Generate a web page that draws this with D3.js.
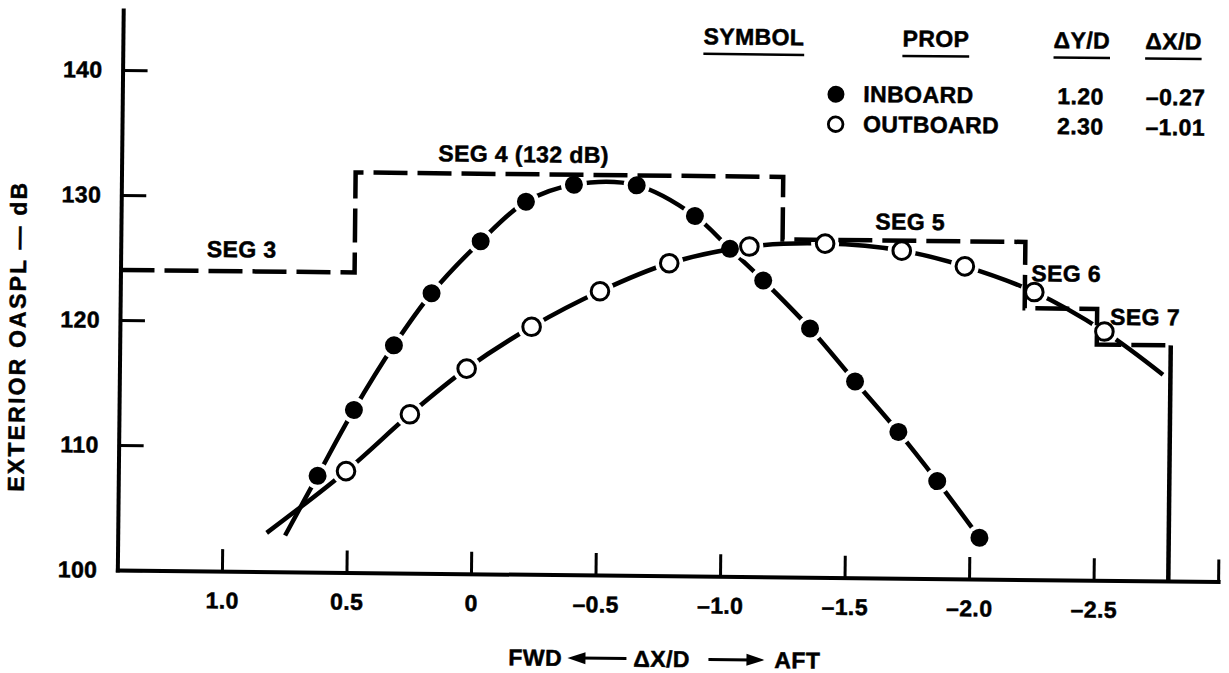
<!DOCTYPE html>
<html>
<head>
<meta charset="utf-8">
<script src="https://cdn.jsdelivr.net/npm/d3@7"></script>
<style>
  html, body { margin: 0; padding: 0; background: #fff; }
  svg { display: block; }
  text { font-family: "Liberation Sans", Arial, Helvetica, sans-serif; font-weight: bold; fill: #000;
         stroke: #000; stroke-width: 0.5px; letter-spacing: 0.4px; }
</style>
</head>
<body>
<svg id="chart" width="1229" height="673"></svg>
<script>
// Inboard propeller: ΔX/D station and exterior OASPL (dB)
const inboardX  = [0.620, 0.477, 0.319, 0.170, -0.025, -0.205, -0.397, -0.649, -0.884, -1.026, -1.161, -1.351, -1.534, -1.710, -1.868, -2.040];
const inboardDb = [107.7, 113.0, 118.2, 122.4, 126.6, 129.8, 131.2, 131.2, 128.8, 126.2, 123.7, 119.9, 115.7, 111.7, 107.8, 103.3];

// Outboard propeller
const outboardX  = [0.506, 0.252, 0.026, -0.233, -0.506, -0.783, -1.104, -1.408, -1.716, -1.970, -2.250, -2.533];
const outboardDb = [108.1, 112.7, 116.4, 119.8, 122.7, 125.0, 126.4, 126.7, 126.2, 125.0, 123.0, 119.9];

// Faired-curve extensions beyond the measured stations [ΔX/D, dB]
const inboardCurveStart  = [0.748, 102.9];
const outboardCurveStart = [0.822, 103.1];
const outboardCurveEnd   = [-2.770, 116.5];

// Fuselage design segments: edges along ΔX/D and level of each segment
const segNames  = ["SEG 3", "SEG 4 (132 dB)", "SEG 5", "SEG 6", "SEG 7"];
const segEdges  = [1.42, 0.48, -1.237, -2.212, -2.503, -2.80];
const segLevels = [124, 132, 127, 121.7, 118.85];

// Axis ticks
const xTicks      = [1.0, 0.5, 0, -0.5, -1.0, -1.5, -2.0, -2.5, -3.0];
const xTickLabels = ["1.0", "0.5", "0", "\u20130.5", "\u20131.0", "\u20131.5", "\u20132.0", "\u20132.5", ""];
const yTicks      = [100, 110, 120, 130, 140];

// Legend table
const legendHeaders = ["SYMBOL", "PROP", "\u0394Y/D", "\u0394X/D"];
const propNames = ["INBOARD", "OUTBOARD"];
const propDY    = ["1.20", "2.30"];
const propDX    = ["\u20130.27", "\u20131.01"];

// ---------------------------------------------------------------
const FONT = 23;
const svg = d3.select("#chart");
const g = svg.append("g").attr("transform", "rotate(0.6 670 320)");

const x = d3.scaleLinear().domain([1.42, -3.0]).range([120, 1220.8]);
const y = d3.scaleLinear().domain([100, 144.8]).range([575.8, 15.7]);

// Axes
const xAxis = d3.axisBottom(x).tickValues(xTicks).tickFormat((d, i) => xTickLabels[i])
  .tickSize(-22).tickSizeOuter(0).tickPadding(21);
const yAxis = d3.axisLeft(y).tickValues(yTicks).tickFormat(d3.format("d"))
  .tickSize(-25).tickSizeOuter(0).tickPadding(20);

const gx = g.append("g").attr("transform", `translate(0,${y(100)})`).call(xAxis);
const gy = g.append("g").attr("transform", `translate(${x(1.42)},0)`).call(yAxis);
[gx, gy].forEach(a => {
  a.select(".domain").attr("stroke", "#000").attr("stroke-width", 4).attr("stroke-linecap", "square");
  a.selectAll(".tick line").attr("stroke", "#000").attr("stroke-width", 3);
  a.selectAll(".tick text").attr("font-size", FONT).attr("font-family", null).attr("fill", null);
});

// Axis titles
g.append("text")
  .attr("transform", `translate(25.5,343) rotate(-90)`)
  .attr("text-anchor", "middle")
  .attr("font-size", FONT)
  .style("letter-spacing", "2.2px")
  .text("EXTERIOR OASPL \u2014 dB");

const titleY = 667;
g.append("text").attr("x", 512).attr("y", titleY).attr("font-size", FONT).text("FWD");
g.append("text").attr("x", 637).attr("y", titleY).attr("font-size", FONT).text("\u0394X/D");
g.append("text").attr("x", 778).attr("y", titleY).attr("font-size", FONT).text("AFT");
function arrow(x0, x1, yy) {
  // shaft from x0 to x1 with a filled head at x1
  const dir = Math.sign(x1 - x0);
  g.append("line").attr("x1", x0).attr("x2", x1 - dir * 12).attr("y1", yy).attr("y2", yy)
    .attr("stroke", "#000").attr("stroke-width", 3);
  g.append("path")
    .attr("d", `M${x1},${yy} L${x1 - dir * 18},${yy - 6} L${x1 - dir * 18},${yy + 6} Z`)
    .attr("fill", "#000");
}
arrow(630, 571, titleY - 8);
arrow(712, 768, titleY - 8);

// Data curves
const line = d3.line().x(d => x(d[0])).y(d => y(d[1])).curve(d3.curveCatmullRom.alpha(0.5));
const inboardPts  = inboardX.map((v, i) => [v, inboardDb[i]]);
const outboardPts = outboardX.map((v, i) => [v, outboardDb[i]]);

function drawSeries(pts, curvePts, r) {
  g.append("path").datum(curvePts).attr("d", line)
    .attr("fill", "none").attr("stroke", "#000").attr("stroke-width", 4.5)
    .attr("stroke-linecap", "butt");
  // small white gap where the curve meets each marker
  g.append("g").selectAll("circle").data(pts).join("circle")
    .attr("cx", d => x(d[0])).attr("cy", d => y(d[1])).attr("r", r + 4)
    .attr("fill", "#fff");
}
drawSeries(inboardPts, [inboardCurveStart, ...inboardPts], 9);
drawSeries(outboardPts, [outboardCurveStart, ...outboardPts, outboardCurveEnd], 10);

// Segment levels (stepped dashed line) and closing drop at the aft end
const segPts = segLevels.map((lv, i) => [segEdges[i], lv]);
segPts.push([segEdges[segEdges.length - 1], segLevels[segLevels.length - 1]]);
g.append("path").datum(segPts)
  .attr("d", d3.line().x(d => x(d[0])).y(d => y(d[1])).curve(d3.curveStepAfter))
  .attr("fill", "none").attr("stroke", "#000").attr("stroke-width", 4.5)
  .attr("stroke-dasharray", "34 10").attr("stroke-linejoin", "miter");
const lastEdge = segEdges[segEdges.length - 1];
g.append("line")
  .attr("x1", x(lastEdge)).attr("x2", x(lastEdge))
  .attr("y1", y(segLevels[segLevels.length - 1])).attr("y2", y(100))
  .attr("stroke", "#000").attr("stroke-width", 4.5);

// Segment labels: offsets from segment mid-point and level
const segLabelOffsets = [[4, -14], [-46, -12], [6, -11], [5, -27], [11, -20]];
segNames.forEach((name, i) => {
  const mid = (x(segEdges[i]) + x(segEdges[i + 1])) / 2;
  g.append("text")
    .attr("x", mid + segLabelOffsets[i][0])
    .attr("y", y(segLevels[i]) + segLabelOffsets[i][1])
    .attr("text-anchor", "middle").attr("font-size", FONT)
    .text(name);
});

// Markers
g.append("g").selectAll("circle").data(inboardPts).join("circle")
  .attr("cx", d => x(d[0])).attr("cy", d => y(d[1])).attr("r", 9).attr("fill", "#000");
g.append("g").selectAll("circle").data(outboardPts).join("circle")
  .attr("cx", d => x(d[0])).attr("cy", d => y(d[1])).attr("r", 8.8)
  .attr("fill", "#fff").attr("stroke", "#000").attr("stroke-width", 3);

// Legend table
const headX = [751, 933, 1079, 1170.6];
const headBase = 44;
legendHeaders.forEach((h, i) => {
  const t = g.append("text").attr("x", headX[i]).attr("y", headBase)
    .attr("text-anchor", "middle").attr("font-size", FONT).text(h);
  const w = t.node().getComputedTextLength();
  g.append("line").attr("x1", headX[i] - w / 2).attr("x2", headX[i] + w / 2)
    .attr("y1", headBase + 9.5).attr("y2", headBase + 9.5)
    .attr("stroke", "#000").attr("stroke-width", 2.5);
});
const rowBase = [100, 130];
propNames.forEach((p, i) => {
  const cy = rowBase[i] - 7.5;
  if (i === 0) {
    g.append("circle").attr("cx", 833.6).attr("cy", cy).attr("r", 8.5).attr("fill", "#000");
  } else {
    g.append("circle").attr("cx", 833.6).attr("cy", cy).attr("r", 7.3)
      .attr("fill", "#fff").attr("stroke", "#000").attr("stroke-width", 2.8);
  }
  g.append("text").attr("x", 861).attr("y", rowBase[i]).attr("font-size", FONT).text(p);
  g.append("text").attr("x", 1055).attr("y", rowBase[i]).attr("font-size", FONT).text(propDY[i]);
  g.append("text").attr("x", 1203).attr("y", rowBase[i]).attr("text-anchor", "end")
    .attr("font-size", FONT).text(propDX[i]);
});
</script>
</body>
</html>
